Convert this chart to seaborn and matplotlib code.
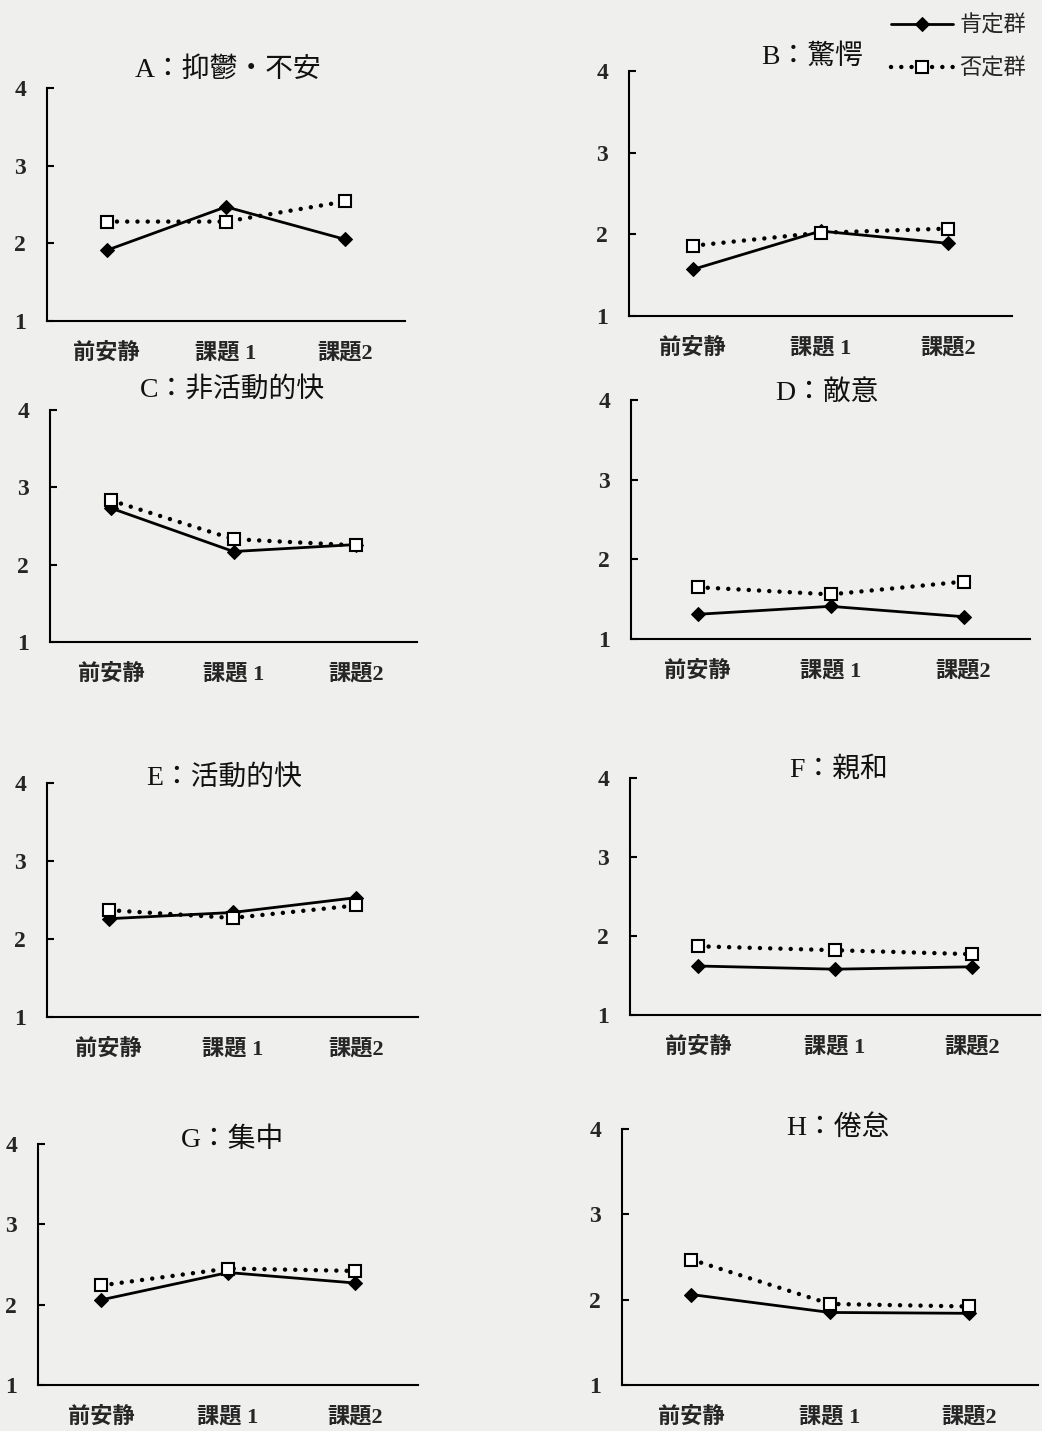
import pandas as pd
import matplotlib.pyplot as plt
import seaborn as sns

# ── data ─────────────────────────────────────────────
phases = ['前安静', '課題 1', '課題2']
titles = ['A：抑鬱・不安', 'B：驚愕', 'C：非活動的快', 'D：敵意',
          'E：活動的快', 'F：親和', 'G：集中', 'H：倦怠']
groups = ['肯定群', '否定群']

affirm = [[1.91, 2.47, 2.05],
          [1.57, 2.04, 1.89],
          [2.73, 2.17, 2.26],
          [1.31, 1.41, 1.28],
          [2.26, 2.34, 2.53],
          [1.62, 1.58, 1.61],
          [2.06, 2.40, 2.27],
          [2.06, 1.85, 1.84]]
deny = [[2.28, 2.28, 2.54],
        [1.86, 2.02, 2.07],
        [2.83, 2.33, 2.25],
        [1.65, 1.56, 1.72],
        [2.37, 2.27, 2.43],
        [1.87, 1.82, 1.77],
        [2.24, 2.45, 2.42],
        [2.47, 1.95, 1.92]]
y_ticks = [1, 2, 3, 4]

# ── layout (pixels) ──────────────────────────────────
W, H = 1042, 1431
rects = [(47, 88, 405, 321), (629, 71, 1012, 316),
         (50, 410, 417, 642), (631, 400, 1030, 639),
         (47, 783, 418, 1017), (630, 778, 1040, 1015),
         (38, 1144, 418, 1385), (622, 1129, 1038, 1385)]
title_xy = [(228, 70), (812, 57), (232, 390), (827, 393),
            (224, 778), (839, 770), (232, 1140), (838, 1128)]

sns.set_style('white')
fonts = ['Liberation Serif', 'Noto Sans CJK JP', 'DejaVu Sans']
plt.rcParams['font.family'] = fonts
plt.rcParams['lines.dash_capstyle'] = 'round'

bg = '#efefed'
fig = plt.figure(figsize=(W / 100, H / 100), dpi=100, facecolor=bg)

dot_style = (0, (0.01, 2.3))
handles = None
for i, (l, t, r, b) in enumerate(rects):
    ax = fig.add_axes([l / W, 1 - b / H, (r - l) / W, (b - t) / H])
    ax.set_facecolor(bg)
    df = pd.DataFrame({'phase': phases * 2,
                       'value': affirm[i] + deny[i],
                       'group': [groups[0]] * 3 + [groups[1]] * 3})
    sns.lineplot(data=df[df.group == groups[0]], x='phase', y='value',
                 color='black', lw=2.0, marker='D', ms=7, mec='black',
                 label=groups[0], ax=ax, zorder=3)
    sns.lineplot(data=df[df.group == groups[1]], x='phase', y='value',
                 color='black', lw=3.2, ls=dot_style, marker='s', ms=8,
                 mfc='white', mec='black', mew=1.5,
                 label=groups[1], ax=ax, zorder=4)
    if handles is None:
        handles, labels = ax.get_legend_handles_labels()
    ax.get_legend().remove()

    ax.set_xlim(-0.5, 2.5)
    ax.set_ylim(1, 4)
    ax.set_yticks(y_ticks)
    ax.set_yticklabels([str(v) for v in y_ticks], fontsize=17,
                       fontweight='bold')
    ax.set_xticks(range(3))
    ax.set_xticklabels(phases, fontsize=16, fontweight='bold')
    ax.set_xticks([0.5, 1.5, 2.5], minor=True)
    ax.tick_params(axis='x', which='major', length=0, pad=16)
    ax.tick_params(axis='x', which='minor', direction='in', length=5,
                   width=1.5, color='black')
    ax.tick_params(axis='y', direction='in', length=5, width=1.5,
                   color='black', pad=15, left=True)
    ax.set_xlabel('')
    ax.set_ylabel('')
    sns.despine(ax=ax)
    for s in ['left', 'bottom']:
        ax.spines[s].set_color('black')
        ax.spines[s].set_linewidth(1.5)

    tx, ty = title_xy[i]
    fig.text(tx / W, 1 - ty / H, titles[i], ha='center', va='center',
             fontsize=20, color='#111111')

fig.legend(handles, labels, loc='upper right',
           bbox_to_anchor=(1.0, 1.0), frameon=False, fontsize=16,
           handlelength=2.8, labelspacing=1.0, handletextpad=0.3,
           borderaxespad=0.3)

plt.savefig('out.png', dpi=100, facecolor=bg)
plt.close()
